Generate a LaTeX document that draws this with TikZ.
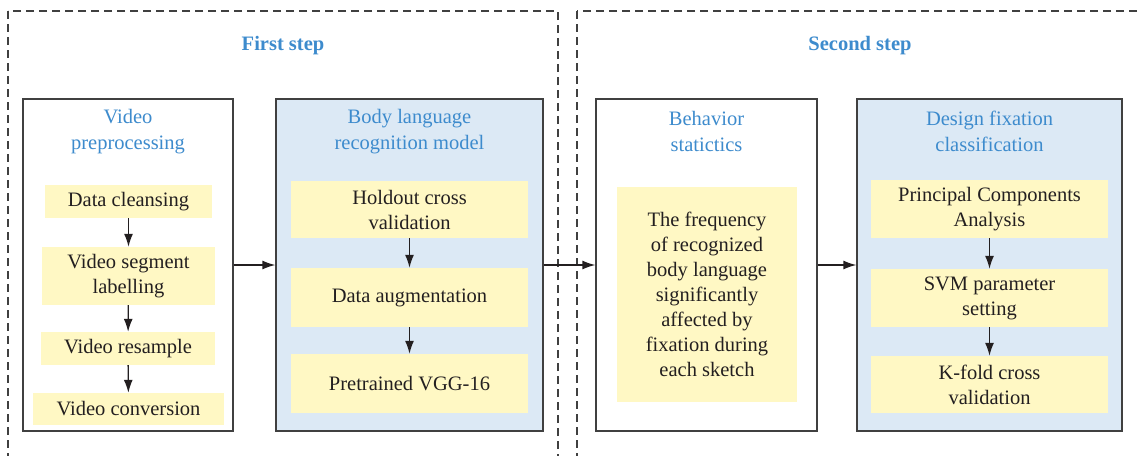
\documentclass[tikz,border=0pt]{standalone}
\usepackage{fontspec}
\setmainfont{Liberation Serif}
\usepackage{tikz}
\usetikzlibrary{arrows.meta,positioning}

\definecolor{headblue}{RGB}{61,139,205}
\definecolor{paleblue}{RGB}{220,233,245}
\definecolor{paleyellow}{RGB}{255,248,196}
\definecolor{framegray}{RGB}{64,64,64}
\definecolor{inkdark}{RGB}{35,31,32}

\tikzset{
  phase/.style={draw=framegray, line width=1.1pt, dash pattern=on 8pt off 5pt},
  phasetitle/.style={text=headblue, font=\bfseries\fontsize{20.5}{24}\selectfont},
  stage/.style={draw=framegray, line width=1.3pt, inner sep=0pt,
    minimum width=#1, minimum height=332pt},
  stagetitle/.style={text=headblue, align=center, font=\fontsize{20.5}{26.5}\selectfont},
  task/.style={fill=paleyellow, inner sep=0pt, text=inkdark, align=center,
    font=\fontsize{20.5}{25}\selectfont},
  link/.style={draw=inkdark, line width=1.3pt, -{Latex[length=13pt,width=9pt]}}
}

\begin{document}
\begin{tikzpicture}[x=1pt,y=-1pt]
  \useasboundingbox (0,0) rectangle (1139,455);
  \clip (0,0) rectangle (1139,455);

  % the two dashed step frames, cut off at the page edge
  \draw[phase] (8,11) rectangle (558,475);
  \draw[phase] (577,11) rectangle (1160,475);
  \node[phasetitle] (first) at (283,46) {First step};
  \node[phasetitle] (second) at (860,46) {Second step};

  % first step
  \node[stage=210pt, fill=white] (prep) at (128,265) {};
  \node[stagetitle] at (128,131.5) {Video\\preprocessing};
  \node[task, minimum width=167pt, minimum height=33pt] (clean) at (128.5,201.5) {Data cleansing};
  \node[task, minimum width=173pt, minimum height=58pt] (label) at (128.5,276) {Video segment\\labelling};
  \node[task, minimum width=174pt, minimum height=33pt] (resamp) at (128,348.5) {Video resample};
  \node[task, minimum width=191pt, minimum height=32pt] (conv) at (128.5,409) {Video conversion};

  \node[stage=267pt, fill=paleblue] (model) at (409.5,265) {};
  \node[stagetitle] at (409.5,131.5) {Body language\\recognition model};
  \node[task, minimum width=237pt, minimum height=57pt] (holdout) at (409.5,209.5) {Holdout cross\\validation};
  \node[task, minimum width=237pt, minimum height=59pt] (augm) at (409.5,297.5) {Data augmentation};
  \node[task, minimum width=237pt, minimum height=59pt] (vgg) at (409.5,383.5) {Pretrained VGG-16};

  % second step
  \node[stage=221pt, fill=white] (stats) at (706.5,265) {};
  \node[stagetitle] at (706.5,131.5) {Behavior\\statictics};
  \node[task, minimum width=180pt, minimum height=215pt] (freq) at (707,294.5)
    {The frequency\\of recognized\\body language\\significantly\\affected by\\fixation during\\each sketch};

  \node[stage=265pt, fill=paleblue] (classif) at (989.5,265) {};
  \node[stagetitle] at (989.5,131.5) {Design fixation\\classification};
  \node[task, minimum width=237pt, minimum height=58pt] (pca) at (989.5,209) {Principal Components\\Analysis};
  \node[task, minimum width=237pt, minimum height=58pt] (svm) at (989.5,298) {SVM parameter\\setting};
  \node[task, minimum width=237pt, minimum height=57pt] (kfold) at (989.5,384.5) {K-fold cross\\validation};

  % arrows inside the stages
  \draw[link] (clean) -- (label);
  \draw[link] (label) -- (resamp);
  \draw[link] (resamp) -- (conv);
  \draw[link] (holdout) -- (augm);
  \draw[link] (augm) -- (vgg);
  \draw[link] (pca) -- (svm);
  \draw[link] (svm) -- (kfold);

  % arrows between the stages
  \draw[link] (prep) -- (model);
  \draw[link] (model) -- (stats);
  \draw[link] (stats) -- (classif);
\end{tikzpicture}
\end{document}
